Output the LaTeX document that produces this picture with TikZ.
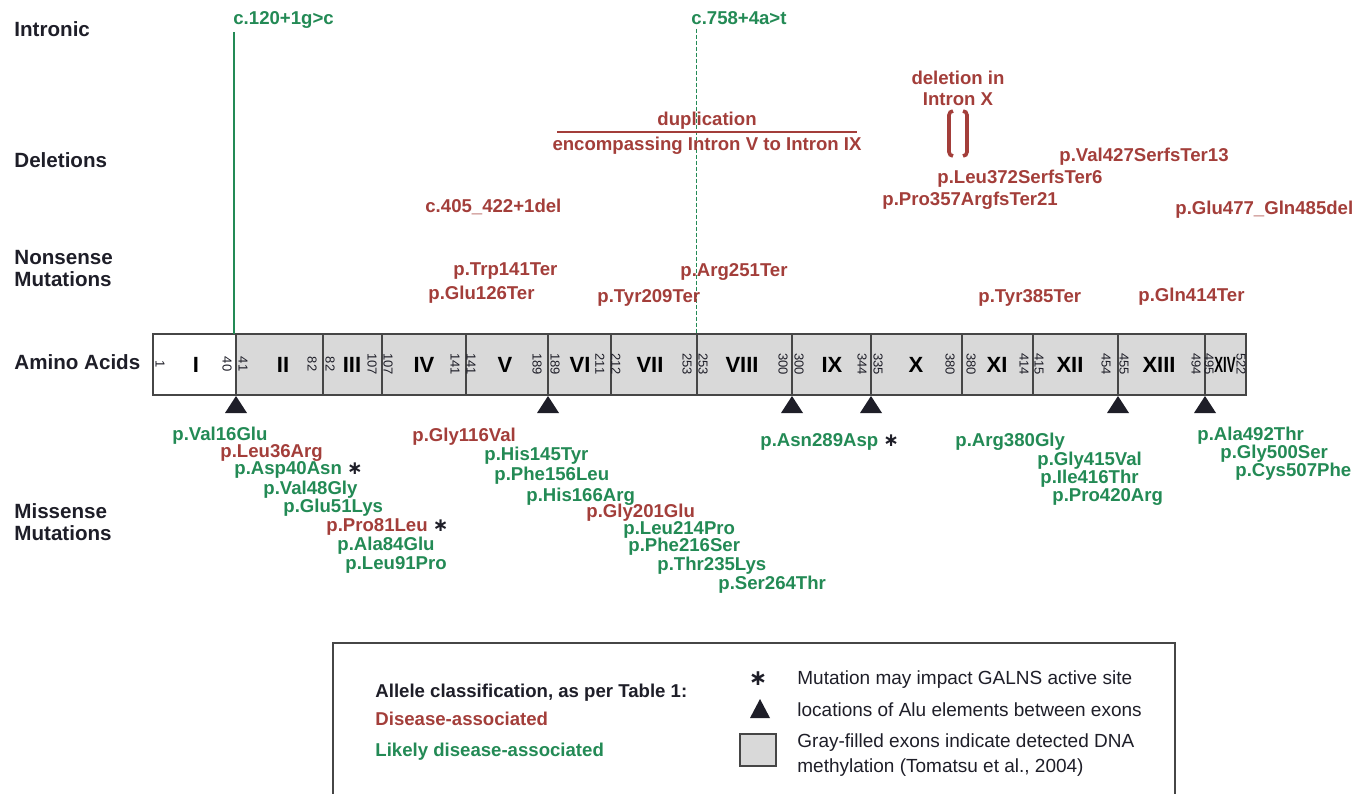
\documentclass[tikz,border=0pt]{standalone}
\usepackage{fontspec}
\setmainfont{Liberation Sans}
\newfontfamily\starfont{DejaVu Sans}
\usetikzlibrary{positioning}

\definecolor{disred}{RGB}{163,62,58}
\definecolor{likgreen}{RGB}{35,138,85}
\definecolor{ink}{RGB}{30,30,40}
\definecolor{exongray}{RGB}{217,217,217}
\definecolor{edge}{RGB}{70,70,70}

\newcommand{\actsite}{\ {\color{ink}\starfont\bfseries ∗}}

\begin{document}
\begin{tikzpicture}[x=0.5pt, y=-0.5pt,
    rowlbl/.style={anchor=base west, inner sep=0pt, text=ink, font=\fontsize{10.3}{12}\selectfont\bfseries},
    dis/.style={anchor=base west, inner sep=0pt, text=disred, font=\fontsize{9.3}{11}\selectfont\bfseries},
    lik/.style={dis, text=likgreen},
    exno/.style={rotate=-90, inner sep=0pt, text=ink, font=\fontsize{6.5}{7}\selectfont},
    exrom/.style={inner sep=0pt, text=black, font=\fontsize{11}{13}\selectfont\bfseries},
    legtxt/.style={anchor=base west, inner sep=0pt, text=ink, font=\fontsize{9.5}{11}\selectfont}]
  \useasboundingbox (0,0) rectangle (1369,793);

  % row titles
  \node[rowlbl] (rIntr) at (14,36) {Intronic};
  \node[rowlbl] (rDel) at (14,167) {Deletions};
  \node[rowlbl] (rNon1) at (14,264) {Nonsense};
  \node[rowlbl] (rNon2) at (14,286) {Mutations};
  \node[rowlbl] (rAA) at (14,369) {Amino Acids};
  \node[rowlbl] (rMis1) at (14,518) {Missense};
  \node[rowlbl] (rMis2) at (14,540) {Mutations};

  % exon bar
  \coordinate (bartop) at (153,334);
  \fill[exongray] (153,334) rectangle (1246,395);
  \fill[white] (153,334) rectangle (236,395);
  \foreach \xl/\xr/\rom/\na/\nb/\xa/\xb/\xm [count=\k] in {
      153/236/I/1/40/160/227/196,
      236/323/II/41/82/243/312/283,
      323/382/III/82/107/330/372/352,
      382/466/IV/107/141/388/455/424,
      466/548/V/141/189/471/537/505,
      548/611/VI/189/211/555/600/580,
      611/697/VII/212/253/616/687/650,
      697/792/VIII/253/300/703/783/742,
      792/871/IX/300/344/799/862/832,
      871/962/X/335/380/878/950/916,
      962/1033/XI/380/414/971/1024/997,
      1033/1118/XII/415/454/1039/1106/1070,
      1118/1205/XIII/455/494/1124/1196/1159,
      1205/1246/{\scalebox{0.6}[1]{XIV}}/495/522/1209/1241/1225} {
    \draw[edge, line width=0.7pt] (\xl,334) rectangle (\xr,395);
    \node[exno] (na\k) at (\xa,364) {\na};
    \node[exno] (nb\k) at (\xb,364) {\nb};
    \node[exrom] (ex\k) at (\xm,365) {\rom};
  }

  % Alu elements
  \foreach \x in {236,548,792,871,1118,1205}
    \fill[ink] (\x,396) -- (\x+11,413) -- (\x-11,413) -- cycle;

  % intronic
  \node[lik] (intA) at (233,24) {c.120+1g>c};
  \node[lik] (intB) at (691,24) {c.758+4a>t};
  \draw[likgreen, line width=0.65pt] ([xshift=0.5pt,yshift=-2pt]intA.south west) -- ([xshift=0.5pt]intA.south west |- bartop);
  \draw[likgreen, line width=0.5pt, dash pattern=on 2pt off 1pt] ([xshift=2.5pt,yshift=-2pt]intB.south west) -- ([xshift=2.5pt]intB.south west |- bartop);

  % deletions
  \node[dis, anchor=base] (dup1) at (707,125) {duplication};
  \node[dis, anchor=base] (dup2) at (707,150) {encompassing Intron V to Intron IX};
  \coordinate (dupL) at (557,132);
  \coordinate (dupR) at (857,132);
  \draw[disred, line width=1.3pt] (dupL) -- (dupR);
  \node[dis, anchor=base] (delX1) at (958,84) {deletion in};
  \node[dis, anchor=base] (delX2) at (958,105) {Intron X};
  \draw[disred, line width=1.8pt, rounded corners=2pt] (953,111) -- (949,111) -- (949,156) -- (953,156);
  \draw[disred, line width=1.8pt, rounded corners=2pt] (963,111) -- (967,111) -- (967,156) -- (963,156);
  \node[dis] (d427) at (1059,161) {p.Val427SerfsTer13};
  \node[dis] (d372) at (937,183) {p.Leu372SerfsTer6};
  \node[dis] (d357) at (882,205) {p.Pro357ArgfsTer21};
  \node[dis] (d477) at (1175,214) {p.Glu477\_Gln485del};
  \node[dis] (d405) at (425,212) {c.405\_422+1del};

  % nonsense
  \node[dis] (n141) at (453,275) {p.Trp141Ter};
  \node[dis] (n126) at (428,299) {p.Glu126Ter};
  \node[dis] (n209) at (597,302) {p.Tyr209Ter};
  \node[dis] (n251) at (680,276) {p.Arg251Ter};
  \node[dis] (n385) at (978,302) {p.Tyr385Ter};
  \node[dis] (n414) at (1138,301) {p.Gln414Ter};

  % missense
  \node[lik] (m16) at (172,440) {p.Val16Glu};
  \node[dis] (m36) at (220,457) {p.Leu36Arg};
  \node[lik] (m40) at (234,474) {p.Asp40Asn\actsite};
  \node[lik] (m48) at (263,494) {p.Val48Gly};
  \node[lik] (m51) at (283,512) {p.Glu51Lys};
  \node[dis] (m81) at (326,531) {p.Pro81Leu\actsite};
  \node[lik] (m84) at (337,550) {p.Ala84Glu};
  \node[lik] (m91) at (345,569) {p.Leu91Pro};
  \node[dis] (m116) at (412,441) {p.Gly116Val};
  \node[lik] (m145) at (484,460) {p.His145Tyr};
  \node[lik] (m156) at (494,480) {p.Phe156Leu};
  \node[lik] (m166) at (526,501) {p.His166Arg};
  \node[dis] (m201) at (586,517) {p.Gly201Glu};
  \node[lik] (m214) at (623,534) {p.Leu214Pro};
  \node[lik] (m216) at (628,551) {p.Phe216Ser};
  \node[lik] (m235) at (657,570) {p.Thr235Lys};
  \node[lik] (m264) at (718,589) {p.Ser264Thr};
  \node[lik] (m289) at (760,446) {p.Asn289Asp\actsite};
  \node[lik] (m380) at (955,446) {p.Arg380Gly};
  \node[lik] (m415) at (1037,465) {p.Gly415Val};
  \node[lik] (m416) at (1040,483) {p.Ile416Thr};
  \node[lik] (m420) at (1052,501) {p.Pro420Arg};
  \node[lik] (m492) at (1197,440) {p.Ala492Thr};
  \node[lik] (m500) at (1220,458) {p.Gly500Ser};
  \node[lik] (m507) at (1235,476) {p.Cys507Phe};

  % legend
  \draw[edge, line width=0.7pt] (333,800) |- (1175,643) -- (1175,800);
  \node[dis, text=ink] (legHead) at (375,697) {Allele classification, as per Table 1:};
  \node[dis] (legDis) at (375,725) {Disease-associated};
  \node[lik] (legLik) at (375,756) {Likely disease-associated};
  \node[inner sep=0pt, text=ink, font=\starfont\bfseries\fontsize{11}{11}\selectfont] (legStar) at (758,679) {∗};
  \node[legtxt] (legStarTxt) at (797,684) {Mutation may impact GALNS active site};
  \fill[ink] (760,699) -- (770,718) -- (750,718) -- cycle;
  \node[legtxt] (legAluTxt) at (797,716) {locations of Alu elements between exons};
  \draw[edge, fill=exongray, line width=0.7pt] (740,734) rectangle (776,766);
  \node[legtxt] (legGray1) at (797,747) {Gray-filled exons indicate detected DNA};
  \node[legtxt] (legGray2) at (797,772) {methylation (Tomatsu et al., 2004)};
\end{tikzpicture}
\end{document}
